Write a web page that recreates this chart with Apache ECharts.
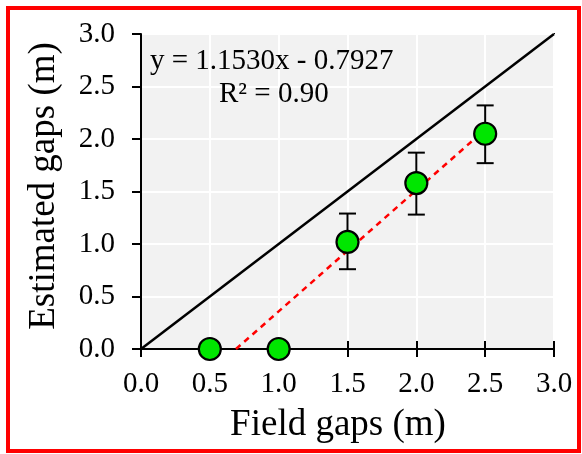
<!DOCTYPE html>
<html>
<head>
<meta charset="utf-8">
<script src="https://cdn.jsdelivr.net/npm/echarts@6/dist/echarts.min.js"></script>
<style>
	html, body { margin: 0; padding: 0; background: #fff; }
	#main { width: 582px; height: 454px; }
</style>
</head>
<body>
<div id="main"></div>
<script>
	// field gaps vs estimated gaps
	var fieldGaps = [0.5, 1.0, 1.5, 2.0, 2.5];
	var estGaps = [0.0, 0.0, 1.02, 1.58, 2.05];
	var errLow = [null, null, 0.76, 1.28, 1.77];
	var errHigh = [null, null, 1.29, 1.87, 2.32];
	var oneToOne = [[0, 0], [3, 3]];
	var fitLine = [[0.69, 0.0], [2.5, 2.09]];
	var tickLabels = ['0.0', '0.5', '1.0', '1.5', '2.0', '2.5', '3.0'];
	var eqText = 'y = 1.1530x - 0.7927';
	var r2Text = 'R\u00b2 = 0.90';

	var serif = '"Liberation Serif", "Times New Roman", serif';

	var points = fieldGaps.map(function(x, i) { return [x, estGaps[i]]; });
	var bars = [];
	for (var i = 0; i < fieldGaps.length; i++) {
		if (errLow[i] != null) bars.push([fieldGaps[i], errLow[i], errHigh[i]]);
	}

	var myChart = echarts.init(document.getElementById('main'));
	var option = {
		animation: false,
		grid: {
			left: 141,
			right: 28,
			top: 34,
			bottom: 105,
			show: true,
			backgroundColor: '#f2f2f2',
			borderColor: '#000',
			borderWidth: 2
		},
		xAxis: [{
			type: 'value',
			min: 0,
			max: 3,
			interval: 0.5,
			axisLine: { show: true, onZero: false, lineStyle: { color: '#000', width: 2 } },
			axisTick: { show: true, length: 8, lineStyle: { color: '#000', width: 2 } },
			axisLabel: {
				margin: 21,
				color: '#000',
				fontFamily: serif,
				fontSize: 29,
				formatter: function(v) { return tickLabels[Math.round(v * 2)]; }
			},
			splitLine: { show: true, lineStyle: { color: '#fff', width: 2 } }
		}, {
			// inward half of the crossing ticks
			type: 'value',
			position: 'bottom',
			min: 0,
			max: 3,
			interval: 0.5,
			axisLine: { show: false },
			axisTick: { show: true, inside: true, length: 8, lineStyle: { color: '#000', width: 2 } },
			axisLabel: { show: false },
			splitLine: { show: false }
		}],
		yAxis: {
			type: 'value',
			min: 0,
			max: 3,
			interval: 0.5,
			axisLine: { show: true, onZero: false, lineStyle: { color: '#000', width: 2 } },
			axisTick: { show: true, length: 9, lineStyle: { color: '#000', width: 2 } },
			axisLabel: {
				margin: 26,
				color: '#000',
				fontFamily: serif,
				fontSize: 29,
				formatter: function(v) { return tickLabels[Math.round(v * 2)]; }
			},
			splitLine: { show: true, lineStyle: { color: '#fff', width: 2 } }
		},
		series: [{
			type: 'line',
			data: oneToOne,
			symbol: 'none',
			lineStyle: { color: '#000', width: 2.5 },
			z: 2
		}, {
			type: 'line',
			data: fitLine,
			symbol: 'none',
			lineStyle: { color: '#ff0000', width: 2.5, type: [6, 5] },
			z: 3
		}, {
			type: 'custom',
			data: bars,
			z: 4,
			renderItem: function(params, api) {
				var x = api.value(0);
				var lo = api.coord([x, api.value(1)]);
				var hi = api.coord([x, api.value(2)]);
				var w = 8.5;
				var st = { stroke: '#000', lineWidth: 2 };
				return {
					type: 'group',
					children: [
						{ type: 'line', shape: { x1: lo[0], y1: lo[1], x2: hi[0], y2: hi[1] }, style: st },
						{ type: 'line', shape: { x1: lo[0] - w, y1: lo[1], x2: lo[0] + w, y2: lo[1] }, style: st },
						{ type: 'line', shape: { x1: hi[0] - w, y1: hi[1], x2: hi[0] + w, y2: hi[1] }, style: st }
					]
				};
			}
		}, {
			type: 'scatter',
			data: points,
			symbolSize: 22,
			itemStyle: { color: '#00e600', borderColor: '#000', borderWidth: 2.2, opacity: 1 },
			z: 5
		}],
		graphic: [{
			type: 'rect',
			shape: { x: 8, y: 8, width: 571, height: 443 },
			style: { fill: 'none', stroke: '#ff0000', lineWidth: 4 },
			z: 100
		}, {
			type: 'text',
			x: 150,
			y: 47,
			z: 100,
			style: { text: eqText, fontSize: 29, fontFamily: serif, fill: '#000' }
		}, {
			type: 'text',
			x: 219,
			y: 80,
			z: 100,
			style: { text: r2Text, fontSize: 29, fontFamily: serif, fill: '#000' }
		}, {
			type: 'text',
			x: 338,
			y: 407,
			z: 100,
			style: { text: 'Field gaps (m)', fontSize: 37, fontFamily: serif, fill: '#000', align: 'center' }
		}, {
			type: 'text',
			x: 26,
			y: 186,
			rotation: Math.PI / 2,
			z: 100,
			style: { text: 'Estimated gaps (m)', fontSize: 37, fontFamily: serif, fill: '#000', align: 'center' }
		}]
	};
	myChart.setOption(option);
</script>
</body>
</html>
